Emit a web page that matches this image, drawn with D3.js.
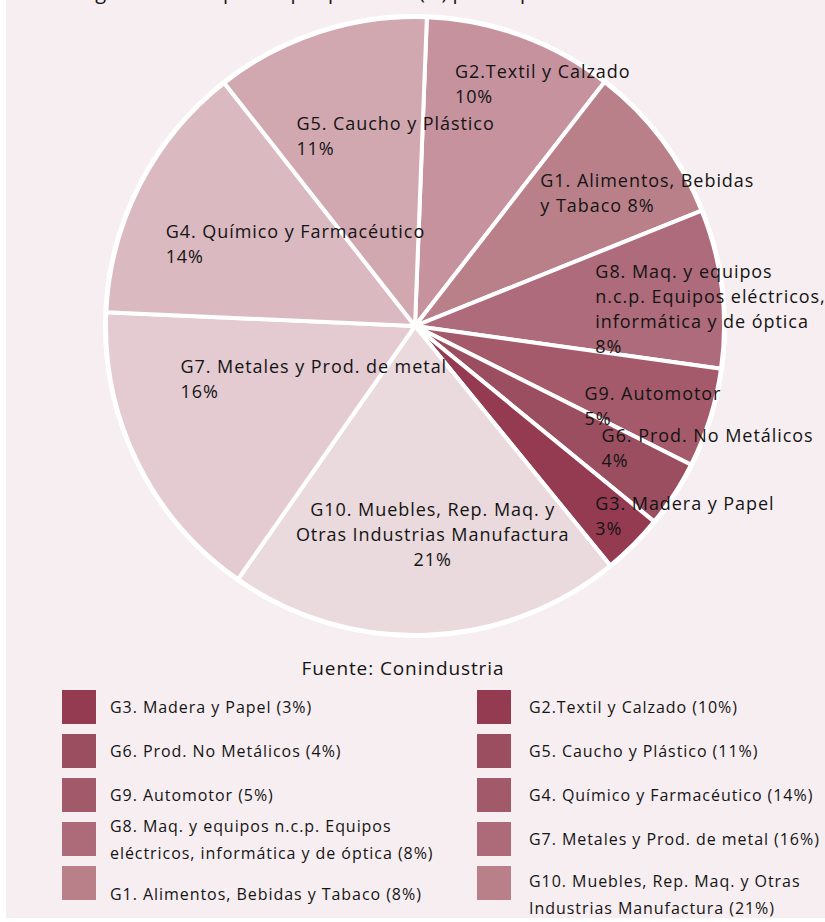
<!DOCTYPE html>
<html>
<head>
<meta charset="utf-8">
<script src="https://cdn.jsdelivr.net/npm/d3@7"></script>
<style>
  html, body { margin: 0; padding: 0; background: #ffffff; }
  svg { display: block; }
  text { font-family: "Open Sans", sans-serif; fill: #141414; font-weight: 500; }
</style>
</head>
<body>
<svg width="825" height="922"></svg>
<script>
const svg = d3.select('svg');
const width = +svg.attr('width');
const height = +svg.attr('height');

// slices, clockwise from the top
const groups = ['G2', 'G1', 'G8', 'G9', 'G6', 'G3', 'G10', 'G7', 'G4', 'G5'];
const shares = [9.9, 8.4, 8.3, 5.2, 3.5, 3.2, 20.6, 16.0, 13.7, 11.2];
const sliceLabels = [
    ['G2.Textil y Calzado'],
    ['G1. Alimentos, Bebidas', 'y Tabaco'],
    ['G8. Maq. y equipos', 'n.c.p. Equipos eléctricos,', 'informática y de óptica'],
    ['G9. Automotor'],
    ['G6. Prod. No Metálicos'],
    ['G3. Madera y Papel'],
    ['G10. Muebles, Rep. Maq. y', 'Otras Industrias Manufactura'],
    ['G7. Metales y Prod. de metal'],
    ['G4. Químico y Farmacéutico'],
    ['G5. Caucho y Plástico']
];
const sliceColors = ['#c6929e', '#b9808a', '#ae6b7b', '#a45a6b', '#9c4e61',
                     '#943b51', '#ead9dd', '#e3cbd1', '#dab9c1', '#d1a7b0'];

// legend (two columns)
const legendLeft = [
    ['G3. Madera y Papel (3%)'],
    ['G6. Prod. No Metálicos (4%)'],
    ['G9. Automotor (5%)'],
    ['G8. Maq. y equipos n.c.p. Equipos', 'eléctricos, informática y de óptica (8%)'],
    ['G1. Alimentos, Bebidas y Tabaco (8%)']
];
const legendRight = [
    ['G2.Textil y Calzado (10%)'],
    ['G5. Caucho y Plástico (11%)'],
    ['G4. Químico y Farmacéutico (14%)'],
    ['G7. Metales y Prod. de metal (16%)'],
    ['G10. Muebles, Rep. Maq. y Otras', 'Industrias Manufactura (21%)']
];
const legendColors = ['#943b51', '#9c4e61', '#a25a6b', '#ad6b7a', '#b98089'];

const titleText = 'Figura 7. Participación por producto (%) por empresa';
const sourceText = 'Fuente: Conindustria';

// layout
const cx = 415, cy = 326, radius = 309;
const startAngle = 2.2 * Math.PI / 180;
// label placement relative to each slice centroid: [dx, dy, anchor]
const labelOffsets = [
    [-13, -103, 'start'], [2, -46, 'start'], [27, -29, 'start'], [22, 28, 'start'],
    [57, 32, 'start'], [71, 75, 'start'], [12, 36, 'middle'], [-96, -21, 'start'],
    [-112, -17, 'start'], [-71, -49, 'start']
];
const labelSize = 18, labelLine = 25;

// background
svg.append('rect')
    .attr('x', 6).attr('y', 0)
    .attr('width', width - 6).attr('height', 918)
    .attr('fill', '#f7eef1');

// title, mostly cut off at the top edge
svg.append('text')
    .attr('x', 80).attr('y', -1)
    .attr('font-size', 20)
    .attr('font-weight', 700)
    .text(titleText);

const pie = d3.pie()
    .sort(null)
    .value(d => d)
    .startAngle(startAngle)
    .endAngle(startAngle + 2 * Math.PI);

const arc = d3.arc().innerRadius(0).outerRadius(radius);
const arcs = pie(shares);

const g = svg.append('g')
    .attr('transform', `translate(${cx},${cy})`);

g.append('circle')
    .attr('r', radius + 1)
    .attr('fill', 'none')
    .attr('stroke', '#ffffff')
    .attr('stroke-width', 4);

g.selectAll('.slice')
    .data(arcs)
    .enter()
    .append('path')
    .attr('class', 'slice')
    .attr('d', arc)
    .attr('fill', (d, i) => sliceColors[i])
    .attr('stroke', '#ffffff')
    .attr('stroke-width', 4)
    .attr('stroke-linejoin', 'round');

// slice labels
const fmt = v => Math.round(v) + '%';
g.selectAll('.slice-label')
    .data(arcs)
    .enter()
    .append('text')
    .attr('class', 'slice-label')
    .attr('font-size', labelSize)
    .attr('letter-spacing', 0.95)
    .attr('text-anchor', (d, i) => labelOffsets[i][2])
    .each(function (d, i) {
        const c = arc.centroid(d);
        const x = c[0] + labelOffsets[i][0];
        const y = c[1] + labelOffsets[i][1];
        const lines = sliceLabels[i].slice();
        // "y Tabaco 8%" keeps the value on the same line
        if (groups[i] === 'G1') lines[lines.length - 1] += ' ' + fmt(d.data);
        else lines.push(fmt(d.data));
        d3.select(this).selectAll('tspan')
            .data(lines)
            .enter()
            .append('tspan')
            .attr('x', x)
            .attr('y', (t, k) => y + k * labelLine)
            .text(t => t);
    });

// source
svg.append('text')
    .attr('x', 403).attr('y', 675)
    .attr('text-anchor', 'middle')
    .attr('font-size', 19)
    .attr('letter-spacing', 0.9)
    .attr('fill', '#333333')
    .text(sourceText);

// legend
const legendTop = 690, legendStep = 44, swatch = 34, legendSize = 16, legendLine = 27;
const legendCols = [
    { x: 62, textX: 48, items: legendLeft },
    { x: 477, textX: 52, items: legendRight }
];
legendCols.forEach(col => {
    const rows = svg.append('g').selectAll('g')
        .data(col.items)
        .enter()
        .append('g')
        .attr('transform', (d, i) => `translate(${col.x},${legendTop + i * legendStep})`);

    rows.append('rect')
        .attr('width', swatch)
        .attr('height', swatch)
        .attr('fill', (d, i) => legendColors[i]);

    rows.append('text')
        .attr('font-size', legendSize)
        .attr('letter-spacing', 0.95)
        .each(function (d, i) {
            const shift = i === 4 ? 11 : 0;
            const y0 = swatch / 2 + 6 - (d.length - 1) * legendLine / 2 + shift;
            d3.select(this).selectAll('tspan')
                .data(d)
                .enter()
                .append('tspan')
                .attr('x', col.textX)
                .attr('y', (t, k) => y0 + k * legendLine)
                .text(t => t);
        });
});
</script>
</body>
</html>
